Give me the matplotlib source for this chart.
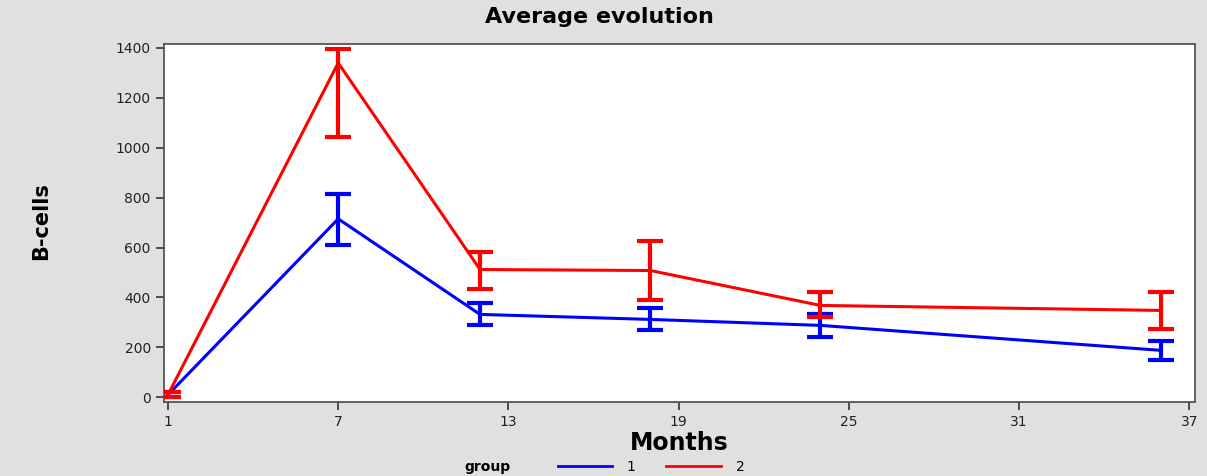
import numpy as np
import matplotlib
matplotlib.use("Agg")
import matplotlib.pyplot as plt
from matplotlib.lines import Line2D

# data
months = [1, 7, 12, 18, 24, 36]
g1_mean = [10, 715, 332, 312, 288, 188]
g1_low = [0, 610, 288, 268, 240, 148]
g1_high = [20, 815, 376, 356, 332, 224]
g2_mean = [10, 1340, 512, 508, 368, 348]
g2_low = [0, 1045, 432, 388, 320, 272]
g2_high = [20, 1395, 582, 628, 420, 420]
x_ticks = [1, 7, 13, 19, 25, 31, 37]
y_ticks = [0, 200, 400, 600, 800, 1000, 1200, 1400]

BG = "#e0e0e0"
FONT = ["DejaVu Sans"]

fig = plt.figure(figsize=(12.07, 4.76), dpi=100, facecolor=BG)
ax = fig.add_axes([0.1359, 0.1555, 0.8541, 0.7521])
ax.set_facecolor("white")

for mean, low, high, color in [(g1_mean, g1_low, g1_high, "#0000ff"),
                               (g2_mean, g2_low, g2_high, "#ff0000")]:
    mean = np.array(mean)
    yerr = [mean - np.array(low), np.array(high) - mean]
    ax.plot(months, mean, color=color, linewidth=2.2, zorder=3)
    ax.errorbar(months, mean, yerr=yerr, fmt="none", ecolor=color,
                elinewidth=3, capsize=9.5, capthick=3, zorder=4)

ax.set_xlim(0.86, 37.2)
ax.set_ylim(-19, 1416)
ax.set_xticks(x_ticks)
ax.set_yticks(y_ticks)
ax.tick_params(direction="out", length=6, width=1.2, color="#333333",
               labelsize=10, labelcolor="#222222")
for lab in ax.get_xticklabels() + ax.get_yticklabels():
    lab.set_family(FONT)
for s in ax.spines.values():
    s.set_color("#555555")
    s.set_linewidth(1.3)

fig.text(0.497, 0.965, "Average evolution", ha="center", va="center",
         fontsize=16, fontweight="bold", family=FONT)
ax.set_xlabel("Months", fontsize=17, fontweight="bold", family=FONT, labelpad=1)
fig.text(0.034, 0.535, "B-cells", ha="center", va="center", rotation=90,
         fontsize=15, fontweight="bold", family=FONT)

# legend row at the bottom
fig.text(0.385, 0.018, "group", ha="left", va="center", fontsize=10,
         fontweight="bold", family=FONT)
fig.add_artist(Line2D([0.462, 0.507], [0.021, 0.021], color="#0000ff",
                      linewidth=2, transform=fig.transFigure))
fig.text(0.519, 0.018, "1", ha="left", va="center", fontsize=10, family=FONT)
fig.add_artist(Line2D([0.552, 0.597], [0.021, 0.021], color="#ff0000",
                      linewidth=2, transform=fig.transFigure))
fig.text(0.610, 0.018, "2", ha="left", va="center", fontsize=10, family=FONT)

fig.savefig("out.png", dpi=100, facecolor=BG)
